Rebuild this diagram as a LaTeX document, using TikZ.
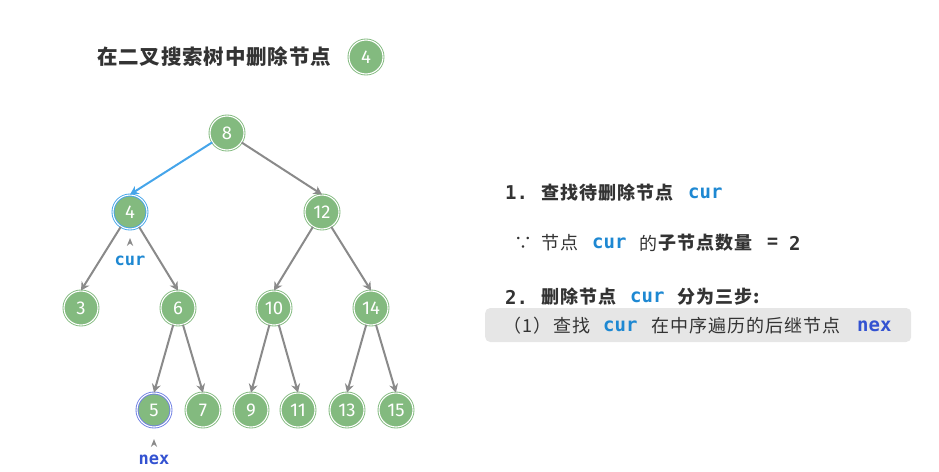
\documentclass[tikz,border=0pt]{standalone}
\usepackage{fontspec}
\setmainfont{DejaVu Sans}
\newfontfamily\cjk{Noto Sans CJK SC}[LetterSpace=6]
\newfontfamily\cjkt{Noto Sans CJK SC}[LetterSpace=4]
\newfontfamily\mono{DejaVu Sans Mono}
\newfontfamily\numf{Fira Sans}
\usetikzlibrary{arrows.meta}
\definecolor{ngreen}{HTML}{83BA7F}
\definecolor{edgeblue}{HTML}{45A5EA}
\definecolor{curblue}{HTML}{1E88D2}
\definecolor{nexblue}{HTML}{3352D1}
\definecolor{nexring}{HTML}{6F80E3}
\definecolor{egray}{HTML}{8A8A8A}
\definecolor{txt}{HTML}{333333}
\definecolor{boxgray}{HTML}{E6E6E6}
\begin{document}
\begin{tikzpicture}[x=1pt,y=-1pt,
  tn/.style={circle, minimum size=34pt, inner sep=0pt, fill=ngreen, draw=ngreen,
    double=white, double distance=1.1pt, line width=0.9pt, text=white,
    font=\numf\fontsize{18.5}{18.5}\selectfont},
  hl/.style={draw=edgeblue},
  hn/.style={draw=nexring},
  edge/.style={draw=egray, line width=2pt, -{Stealth[length=8.5pt,width=9pt,inset=2.8pt]}},
  bedge/.style={edge, draw=edgeblue},
  tx/.style={anchor=west, inner sep=0pt, text=txt, font=\cjk\fontsize{18}{18}\selectfont},
  txb/.style={tx, font=\cjk\bfseries\fontsize{18}{18}\selectfont},
  code/.style={anchor=west, inner sep=0pt, text=curblue, font=\mono\bfseries\fontsize{19}{19}\selectfont},
  ptr/.style={fill=egray}
]
\useasboundingbox (0,0) rectangle (939,471);

% title
\node[anchor=west, inner sep=0pt, text=txt, font=\cjkt\bfseries\fontsize{20.5}{20.5}\selectfont] (title) at (97,57) {在二叉搜索树中删除节点};
\node[tn] (badge) at (366,57) {4};

% tree nodes
\node[tn] (n8) at (227,133) {8};
\node[tn, hl] (n4) at (130,212) {4};
\node[tn] (n12) at (322,212) {12};
\node[tn] (n3) at (81,308) {3};
\node[tn] (n6) at (178,308) {6};
\node[tn] (n10) at (274,308) {10};
\node[tn] (n14) at (371,308) {14};
\node[tn, hn] (n5) at (154,410) {5};
\node[tn] (n7) at (203,410) {7};
\node[tn] (n9) at (251,410) {9};
\node[tn] (n11) at (298,410) {11};
\node[tn] (n13) at (347,410) {13};
\node[tn] (n15) at (396,410) {15};

% edges
\draw[bedge] (n8) -- (n4.north);
\draw[edge] (n8) -- (n12.north);
\draw[edge] (n4) -- (n3.north);
\draw[edge] (n4) -- (n6.north);
\draw[edge] (n12) -- (n10.north);
\draw[edge] (n12) -- (n14.north);
\draw[edge] (n6) -- (n5.north);
\draw[edge] (n6) -- (n7.north);
\draw[edge] (n10) -- (n9.north);
\draw[edge] (n10) -- (n11.north);
\draw[edge] (n14) -- (n13.north);
\draw[edge] (n14) -- (n15.north);

% pointers
\coordinate (pc) at (130,242);
\fill[ptr] (pc) ++(0,-4) -- ++(3.2,8) -- ++(-3.2,-2.5) -- ++(-3.2,2.5) -- cycle;
\node[code, anchor=center, font=\mono\bfseries\fontsize{17}{17}\selectfont] (curlab) at (130,261) {cur};
\coordinate (pn) at (154,443);
\fill[ptr] (pn) ++(0,-4) -- ++(3.2,8) -- ++(-3.2,-2.5) -- ++(-3.2,2.5) -- cycle;
\node[code, anchor=center, text=nexblue, font=\mono\bfseries\fontsize{17}{17}\selectfont] (nexlab) at (154,460) {nex};

% right text
\node[code, text=txt] (l1a) at (505,193) {1.};
\node[txb] (l1b) at (541,193) {查找待删除节点};
\node[code] (l1c) at (688,193) {cur};

\node[tx] (l2a) at (514,243) {∵};
\node[tx] (l2b) at (541,243) {节点};
\node[code] (l2c) at (592,243) {cur};
\node[tx] (l2d) at (639,243) {的};
\node[txb] (l2e) at (658,243) {子节点数量};
\node[txb] (l2f) at (767,243) {=};
\node[code, text=txt] (l2g) at (789,243) {2};

\node[code, text=txt] (l3a) at (505,297) {2.};
\node[txb] (l3b) at (541,297) {删除节点};
\node[code] (l3c) at (630,297) {cur};
\node[txb] (l3d) at (677,297) {分为三步:};

\node[draw=none, fill=boxgray, rounded corners=5pt, minimum width=426pt, minimum height=34pt, anchor=west] (box) at (485,325) {};
\node[tx] (l4a) at (503,326) {（1）};
\node[tx] (l4b) at (553,326) {查找};
\node[code] (l4c) at (603,326) {cur};
\node[tx] (l4d) at (651,326) {在中序遍历的后继节点};
\node[code, text=nexblue] (l4e) at (857,326) {nex};
\end{tikzpicture}
\end{document}
